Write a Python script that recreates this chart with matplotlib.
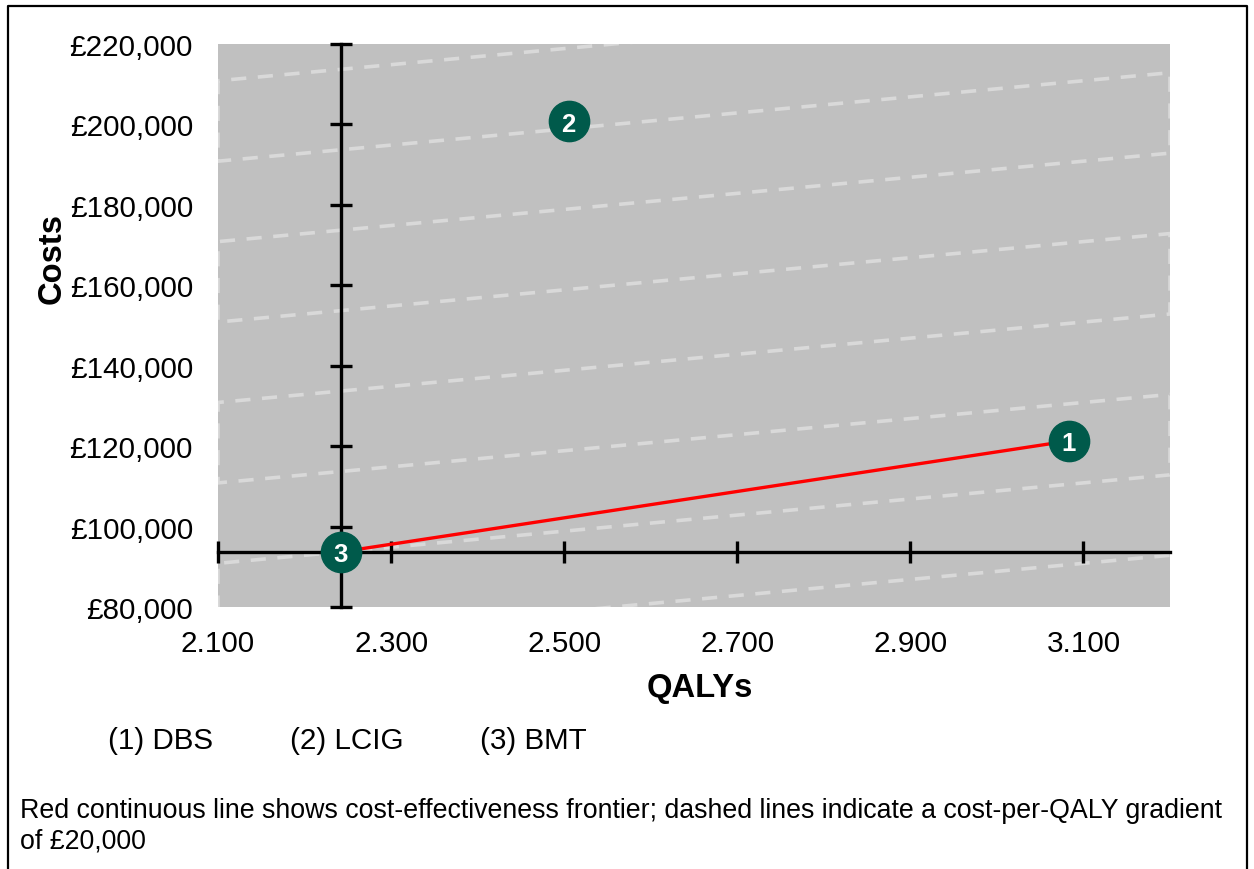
import matplotlib
matplotlib.use("Agg")
import matplotlib.pyplot as plt
from matplotlib.lines import Line2D

plt.rcParams['font.family'] = ['Liberation Sans', 'DejaVu Sans']

# data
labels = ["1", "2", "3"]
names = ["DBS", "LCIG", "BMT"]
qalys = [3.083, 2.505, 2.242]
costs = [121300, 200800, 93700]
frontier = [2, 0]          # BMT -> DBS
wtp = 20000                # cost-per-QALY gradient
xticks = [2.1, 2.3, 2.5, 2.7, 2.9, 3.1]
yticks = [80000, 100000, 120000, 140000, 160000, 180000, 200000, 220000]
xlim = (2.1, 3.2)
ylim = (80000, 220000)

W, H = 1254, 870
fig = plt.figure(figsize=(W / 100, H / 100), dpi=100)
ax = fig.add_axes([218 / W, 1 - 608 / H, (1170 - 218) / W, (608 - 45) / H])
ax.set_facecolor("#c0c0c0")
ax.set_xlim(*xlim)
ax.set_ylim(*ylim)
for s in ax.spines.values():
    s.set_visible(False)

# axes cross at BMT
cx, cy = qalys[2], costs[2]

# dashed iso-gradient lines, drawn as one zigzag clipped to the plot area
zx, zy = [], []
ks = list(range(6, -2, -1))
for i, k in enumerate(ks):
    yl = cy + wtp * (xlim[0] - cx) + k * wtp
    yr = cy + wtp * (xlim[1] - cx) + k * wtp
    if i % 2 == 0:
        zx += [xlim[1], xlim[0]]
        zy += [yr, yl]
    else:
        zx += [xlim[0], xlim[1]]
        zy += [yl, yr]
ax.plot(zx, zy, color="#d9d9d9", lw=2.6, ls=(0, (4.2, 3.2)), zorder=1)

# axis lines with crossing ticks
ax.plot([cx, cx], ylim, color="black", lw=2.4, zorder=2, clip_on=False)
ax.plot(xlim, [cy, cy], color="black", lw=2.4, zorder=2, clip_on=False)
ax.plot(xticks, [cy] * len(xticks), ls="none", marker="|", ms=16, mew=2.4,
        color="black", zorder=2, clip_on=False)
ax.plot([cx] * len(yticks), yticks, ls="none", marker="_", ms=16, mew=2.4,
        color="black", zorder=2, clip_on=False)

# frontier
ax.plot([qalys[i] for i in frontier], [costs[i] for i in frontier],
        color="#ff0000", lw=2.4, zorder=3)

# points
ax.plot(qalys, costs, ls="none", marker="o", ms=29, color="#005a4b",
        mec="#005a4b", zorder=4, clip_on=False)
for x, y, t in zip(qalys, costs, labels):
    ax.text(x, y, t, color="white", fontsize=18.5, fontweight="bold",
            ha="center", va="center_baseline", zorder=5)

ax.set_xticks(xticks)
ax.set_xticklabels(["%.3f" % v for v in xticks])
ax.set_yticks(yticks)
ax.set_yticklabels(["£{:,}".format(v) for v in yticks])
ax.tick_params(axis="both", length=0, labelsize=21.3)
ax.tick_params(axis="x", pad=16)
ax.tick_params(axis="y", pad=18)
ax.set_xlabel("QALYs", fontsize=23.6, fontweight="bold")
ax.xaxis.set_label_coords((700 - 218) / 952, -(689 - 608) / 563)
ax.set_ylabel("Costs", fontsize=23.6, fontweight="bold")
ax.yaxis.set_label_coords((52 - 218) / 952, (608 - 259) / 563)
ax.xaxis.label.set_va("center")
ax.yaxis.label.set_va("center")

# legend text
for t, n, px in zip(labels, names, [108, 290, 480]):
    fig.text(px / W, 1 - 749 / H, "(%s) %s" % (t, n), fontsize=21.3,
             va="baseline")

fig.text(20 / W, 1 - 818 / H,
         "Red continuous line shows cost-effectiveness frontier; dashed lines "
         "indicate a cost-per-QALY gradient", fontsize=19.3, va="baseline")
fig.text(20 / W, 1 - 849 / H, "of £20,000", fontsize=19.3, va="baseline")

# outer frame (open at the bottom)
fig.add_artist(Line2D([8 / W, 8 / W, 1247 / W, 1247 / W],
                      [0, 1 - 7 / H, 1 - 7 / H, 0],
                      transform=fig.transFigure, color="black", lw=1.6))

fig.savefig("out.png", dpi=100)
